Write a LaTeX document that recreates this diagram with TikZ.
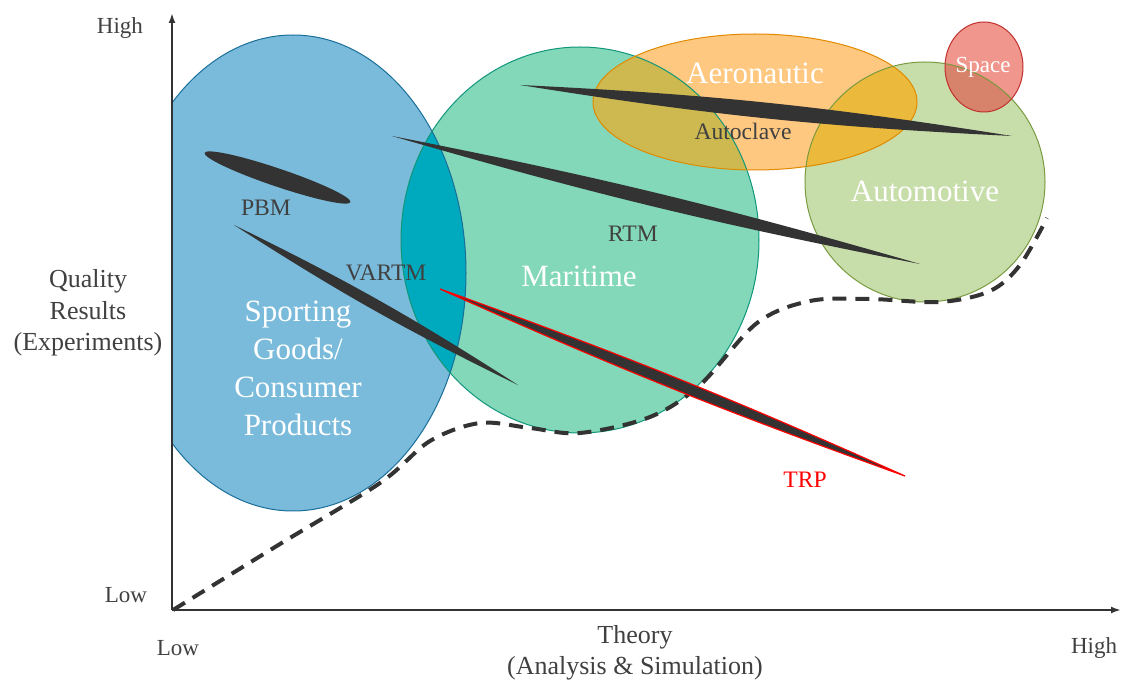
\documentclass[tikz,border=0pt]{standalone}
\usepackage{fontspec}
\setmainfont{Liberation Serif}
\usetikzlibrary{arrows.meta}

\definecolor{inkgray}{RGB}{51,51,51}
\definecolor{textgray}{RGB}{64,64,64}
\definecolor{sportfill}{RGB}{122,187,219}
\definecolor{sportline}{RGB}{26,110,154}
\definecolor{seafill}{RGB}{130,216,184}
\definecolor{sealine}{RGB}{16,150,122}
\definecolor{aerofill}{RGB}{255,200,128}
\definecolor{aeroline}{RGB}{224,138,0}
\definecolor{autofill}{RGB}{200,222,170}
\definecolor{autoline}{RGB}{122,154,64}
\definecolor{spacefill}{RGB}{240,150,140}
\definecolor{spaceline}{RGB}{192,48,47}
\definecolor{sportsea}{RGB}{0,170,190}
\definecolor{seaaero}{RGB}{205,185,80}
\definecolor{aeroauto}{RGB}{235,185,60}
\definecolor{autospace}{RGB}{215,130,106}

% market areas (pixel units)
\newcommand{\sportarea}{(293,273) ellipse [x radius=173, y radius=238]}
\newcommand{\seaarea}{(580,240) ellipse [x radius=179, y radius=193]}
\newcommand{\aeroarea}{(755,102) ellipse [x radius=162, y radius=68]}
\newcommand{\autoarea}{(925,182) ellipse [x radius=120, y radius=120]}
\newcommand{\spacearea}{(984,67) ellipse [x radius=39, y radius=45]}

\tikzset{
  axis/.style={draw=inkgray, line width=1pt, -{Latex[length=5pt,width=3.5pt]}},
  needle/.style={fill=inkgray},
  border/.style={line width=0.5pt},
  biglabel/.style={text=white, font=\fontsize{15.5}{19}\selectfont, align=center},
  proclabel/.style={text=textgray, font=\fontsize{11.8}{14}\selectfont},
  axislabel/.style={text=textgray, font=\fontsize{13}{15.75}\selectfont, align=center},
  endlabel/.style={text=textgray, font=\fontsize{11.5}{14}\selectfont}
}

\begin{document}
\begin{tikzpicture}[x=0.5pt, y=-0.5pt]
\useasboundingbox (0,0) rectangle (1126,684);

% fills
\begin{scope}
\clip (172,0) rectangle (1126,684);
\fill[sportfill] \sportarea;
\end{scope}
\fill[seafill] \seaarea;
\fill[aerofill] \aeroarea;
\fill[autofill] \autoarea;
\fill[spacefill] \spacearea;

% overlaps
\begin{scope}
\clip \sportarea;
\fill[sportsea] \seaarea;
\end{scope}
\begin{scope}
\clip \seaarea;
\fill[seaaero] \aeroarea;
\end{scope}
\begin{scope}
\clip \aeroarea;
\fill[aeroauto] \autoarea;
\end{scope}
\begin{scope}
\clip \autoarea;
\fill[autospace] \spacearea;
\end{scope}

% borders
\begin{scope}
\clip (172,0) rectangle (1126,684);
\draw[sportline, border] \sportarea;
\end{scope}
\draw[sealine, border] \seaarea;
\draw[aeroline, border] \aeroarea;
\draw[autoline, border] \autoarea;
\draw[spaceline, border] \spacearea;

% limit curve
\draw[inkgray, line width=2pt, dash pattern=on 7pt off 4.5pt]
  plot[smooth, tension=0.55] coordinates {(173,610) (280,544) (380,483) (430,441)
  (480,423) (530,428) (580,433) (650,417) (700,385) (757,323) (810,301)
  (870,299) (940,302) (990,291) (1020,265) (1047,218)};

% processes
\coordinate (pbmA) at (205,153);
\coordinate (pbmB) at (350,202);
\coordinate (vartmA) at (234,225);
\coordinate (vartmB) at (518,385);
\coordinate (rtmA) at (392,136);
\coordinate (rtmB) at (920,264);
\coordinate (autoclA) at (520,85);
\coordinate (autoclB) at (1012,136);
\coordinate (trpA) at (440,289);
\coordinate (trpB) at (905,476);
\fill[needle, rotate around={-18.7:(277.5,177.5)}] (277.5,177.5) ellipse [x radius=77, y radius=9];
\fill[needle] (vartmA) to[bend left=3.3] (vartmB) to[bend left=3.3] (vartmA);
\fill[needle] (rtmA) to[bend left=2.5] (rtmB) to[bend left=2.5] (rtmA);
\fill[needle] (autoclA) to[bend left=3.1] (autoclB) to[bend left=3.1] (autoclA);
\filldraw[needle, draw=red, line width=0.6pt] (trpA) to[bend left=2.2] (trpB) to[bend left=2.2] (trpA);

% axes
\coordinate (origin) at (172,610);
\coordinate (ytop) at (172,13);
\coordinate (xend) at (1121,610);
\draw[axis] (origin) -- (ytop);
\draw[axis] (origin) -- (xend);

% labels
\node[biglabel] (sport) at (298,368) {Sporting\\Goods/\\Consumer\\Products};
\node[biglabel] (sea) at (579,276) {Maritime};
\node[biglabel] (aero) at (755,73) {Aeronautic};
\node[biglabel] (auto) at (925,191) {Automotive};
\node[biglabel, font=\fontsize{11.5}{14}\selectfont] (space) at (983,67) {Space};
\node[proclabel] (pbm) at (266,208) {PBM};
\node[proclabel] (vartm) at (386,273) {VARTM};
\node[proclabel] (rtm) at (633,234) {RTM};
\node[proclabel] (autocl) at (743,131) {Autoclave};
\node[proclabel, text=red] (trp) at (805,480) {TRP};
\node[axislabel] (quality) at (88,313) {Quality\\Results\\(Experiments)};
\node[axislabel] (theory) at (635,653) {Theory\\(Analysis \& Simulation)};
\node[endlabel] (yhigh) at (120,28) {High};
\node[endlabel] (ylow) at (126,595) {Low};
\node[endlabel] (xlow) at (178,648) {Low};
\node[endlabel] (xhigh) at (1094,648) {High};
\end{tikzpicture}
\end{document}
